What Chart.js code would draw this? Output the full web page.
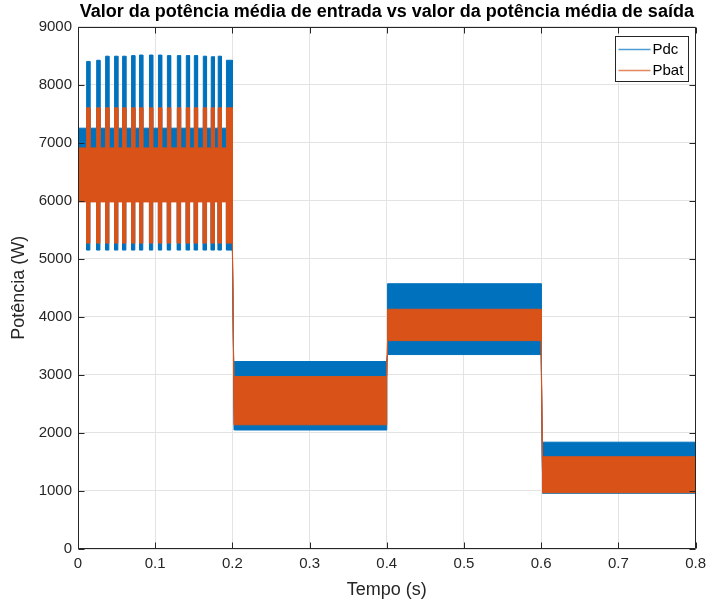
<!DOCTYPE html>
<html>
<head>
<meta charset="utf-8">
<title>Potência média</title>
<script src="https://cdn.jsdelivr.net/npm/chart.js@4.4.1/dist/chart.umd.min.js"></script>
<style>
  html, body { margin: 0; padding: 0; background: #fff; }
</style>
</head>
<body>
<canvas id="grafico" width="712" height="604"></canvas>
<script>
// Instantes dos degraus de potência (s) e duração de cada transição (s)
const degraus = [0, 0.2, 0.4, 0.6, 0.8];
const transicoes = [0.0005, 0.0025, 0.001, 0.002];

// Faixa de oscilação em regime de cada intervalo (W)
const pdcMax  = [7250, 3230, 4570, 1840];
const pdcMin  = [6000, 2050, 3350, 960];
const pbatMax = [6910, 2970, 4130, 1590];
const pbatMin = [5980, 2140, 3590, 970];

// Picos periódicos no primeiro intervalo (s) e seus extremos (W)
const picosTempo = [0.0112, 0.0242, 0.0358, 0.0474, 0.0578, 0.0694, 0.0797, 0.0926,
                    0.1042, 0.1158, 0.1287, 0.1403, 0.1507, 0.1623, 0.1726, 0.1816];
const picoDuracao = 0.0042;
const pdcPicosMax = [8400, 8420, 8490, 8490, 8490, 8500, 8510, 8510,
                     8510, 8500, 8500, 8500, 8500, 8490, 8480, 8490];
const pdcPicosMin = 5150;
const pbatPicosMax = 7600;
const pbatPicosMin = 5270;
// Último trecho do primeiro intervalo, que fica todo no nível dos picos
const blocoFinal = 0.1923;
const pdcBlocoMax = 8420;
const pbatBlocoMax = 7600;

const nomes = ['Pdc', 'Pbat'];
const cores = ['#0072BD', '#D95319'];

// Monta as curvas superior e inferior da faixa de uma série
function envoltoria(faixaMax, faixaMin, picoMax, picoMin, blocoMax) {
  const sup = [], inf = [];
  const add = (t, hi, lo) => { sup.push({x: t, y: hi}); inf.push({x: t, y: lo}); };
  let hiAnt = 0, loAnt = 0;
  for (let i = 0; i < faixaMax.length; i++) {
    const t = degraus[i], d = transicoes[i];
    const hi = faixaMax[i], lo = faixaMin[i];
    add(t, hiAnt, loAnt);
    if (lo < loAnt) add(t, loAnt, loAnt);
    else add(t, hiAnt, hiAnt);
    add(t + d, lo, lo);
    add(t + d, hi, lo);
    if (i === 0) {
      picosTempo.forEach((tp, k) => {
        const pm = Array.isArray(picoMax) ? picoMax[k] : picoMax;
        add(tp, hi, lo);
        add(tp, pm, picoMin);
        add(tp + picoDuracao, pm, picoMin);
        add(tp + picoDuracao, hi, lo);
      });
      add(blocoFinal, hi, lo);
      add(blocoFinal, blocoMax, picoMin);
      hiAnt = blocoMax; loAnt = picoMin;
    } else {
      hiAnt = hi; loAnt = lo;
    }
  }
  add(degraus[degraus.length - 1], hiAnt, loAnt);
  return {sup, inf};
}

const pdc = envoltoria(pdcMax, pdcMin, pdcPicosMax, pdcPicosMin, pdcBlocoMax);
const pbat = envoltoria(pbatMax, pbatMin, pbatPicosMax, pbatPicosMin, pbatBlocoMax);

// Moldura, marcas internas dos eixos e legenda no estilo MATLAB
const quadro = {
  id: 'quadro',
  afterDatasetsDraw(chart) {
    const {ctx, chartArea: a, scales: {x, y}} = chart;
    const L = Math.round(a.left) + 0.5, R = Math.round(a.right) - 0.5;
    const T = Math.round(a.top) + 0.5, B = Math.round(a.bottom) - 0.5;
    const tam = 6;
    ctx.save();
    ctx.strokeStyle = '#262626';
    ctx.lineWidth = 1;
    ctx.beginPath();
    ctx.rect(L, T, R - L, B - T);
    x.ticks.forEach(t => {
      const px = Math.round(x.getPixelForValue(t.value)) + 0.5;
      ctx.moveTo(px, B); ctx.lineTo(px, B - tam);
      ctx.moveTo(px, T); ctx.lineTo(px, T + tam);
    });
    y.ticks.forEach(t => {
      const py = Math.round(y.getPixelForValue(t.value)) + 0.5;
      ctx.moveTo(L, py); ctx.lineTo(L + tam, py);
      ctx.moveTo(R, py); ctx.lineTo(R - tam, py);
    });
    ctx.stroke();

    // legenda
    const lx = R - 80, ly = T + 9, lw = 73, lh = 45;
    ctx.fillStyle = '#fff';
    ctx.fillRect(lx, ly, lw, lh);
    ctx.strokeRect(lx, ly, lw, lh);
    ctx.font = '15px "Liberation Sans", Arial, sans-serif';
    ctx.textBaseline = 'middle';
    nomes.forEach((n, i) => {
      const yy = ly + 13 + i * 21;
      ctx.strokeStyle = cores[i];
      ctx.globalAlpha = 0.7;
      ctx.lineWidth = 1.5;
      ctx.beginPath();
      ctx.moveTo(lx + 3, yy); ctx.lineTo(lx + 35, yy);
      ctx.stroke();
      ctx.globalAlpha = 1;
      ctx.fillStyle = '#000';
      ctx.fillText(n, lx + 37, yy);
    });
    ctx.restore();
  }
};

Chart.defaults.font.family = '"Liberation Sans", Arial, Helvetica, sans-serif';

const ctx = document.getElementById('grafico').getContext('2d');
new Chart(ctx, {
  type: 'line',
  data: {
    datasets: [
      {label: nomes[0], data: pdc.sup, borderColor: cores[0], backgroundColor: cores[0], fill: '+1', order: 1},
      {label: nomes[0], data: pdc.inf, borderColor: cores[0], backgroundColor: cores[0], fill: false, order: 1},
      {label: nomes[1], data: pbat.sup, borderColor: cores[1], backgroundColor: cores[1], fill: '+1', order: 0},
      {label: nomes[1], data: pbat.inf, borderColor: cores[1], backgroundColor: cores[1], fill: false, order: 0}
    ]
  },
  options: {
    responsive: false,
    devicePixelRatio: 1,
    animation: false,
    elements: {
      point: { radius: 0 },
      line: { borderWidth: 1, tension: 0 }
    },
    layout: { padding: { left: 0, right: 14, top: 0, bottom: 0 } },
    plugins: {
      legend: { display: false },
      tooltip: { enabled: false },
      title: {
        display: true,
        text: 'Valor da potência média de entrada vs valor da potência média de saída',
        color: '#000',
        fullSize: false,
        font: { size: 18, weight: 'bold' },
        padding: { top: 1, bottom: 4 }
      }
    },
    scales: {
      x: {
        type: 'linear',
        min: 0,
        max: 0.8,
        ticks: {
          stepSize: 0.1,
          color: '#262626',
          font: { size: 15 },
          padding: 6,
          maxRotation: 0,
          callback: v => v === 0 ? '0' : v.toFixed(1)
        },
        grid: { color: '#e3e3e3', drawTicks: false },
        border: { display: false },
        title: {
          display: true,
          text: 'Tempo (s)',
          color: '#262626',
          font: { size: 18 },
          padding: { top: 0, bottom: 3 }
        },
        afterFit: s => { s.height = 55; }
      },
      y: {
        min: 0,
        max: 9000,
        ticks: {
          stepSize: 1000,
          color: '#262626',
          font: { size: 15 },
          padding: 6,
          callback: v => String(v)
        },
        grid: { color: '#e3e3e3', drawTicks: false },
        border: { display: false },
        title: {
          display: true,
          text: 'Potência (W)',
          color: '#262626',
          font: { size: 18 },
          padding: { top: 8, bottom: 0 }
        },
        afterFit: s => { s.width = 78; }
      }
    }
  },
  plugins: [quadro]
});
</script>
</body>
</html>
